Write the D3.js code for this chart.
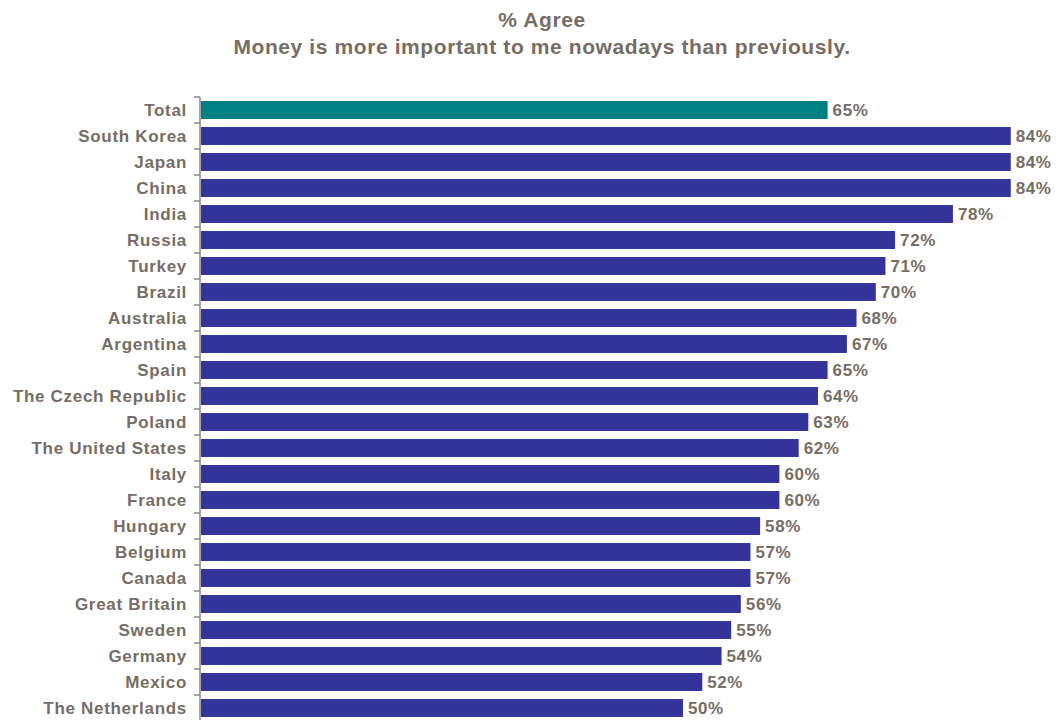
<!DOCTYPE html>
<html><head><meta charset="utf-8">
<script src="https://cdn.jsdelivr.net/npm/d3@7"></script>
<style>body{margin:0;background:#fff}svg{display:block}</style>
</head><body>
<svg id="c" width="1058" height="720"></svg>
<script>
const categories = ["Total","South Korea","Japan","China","India","Russia","Turkey","Brazil","Australia","Argentina","Spain","The Czech Republic","Poland","The United States","Italy","France","Hungary","Belgium","Canada","Great Britain","Sweden","Germany","Mexico","The Netherlands"];
const values = [65,84,84,84,78,72,71,70,68,67,65,64,63,62,60,60,58,57,57,56,55,54,52,50];
const titleLines = ["% Agree","Money is more important to me nowadays than previously."];

const svg = d3.select("#c");
const textColor = "#766d64";
const font = "'Liberation Sans', Arial, sans-serif";

const x = d3.scaleLinear().domain([0,100]).range([201,1165]);
const y = d3.scaleBand().domain(categories).range([97, 97+26*categories.length]).paddingInner(0.31).paddingOuter(0.155);

// title
svg.append("g").selectAll("text").data(titleLines).join("text")
  .attr("x",542).attr("y",(d,i)=>27+i*27)
  .attr("text-anchor","middle")
  .attr("font-family",font).attr("font-weight","bold").attr("font-size",21)
  .attr("letter-spacing","0.6px")
  .attr("fill",textColor).text(d=>d);

// bars
svg.append("g").selectAll("rect").data(categories).join("rect")
  .attr("x",x(0)).attr("y",d=>y(d))
  .attr("width",(d,i)=>x(values[i])-x(0))
  .attr("height",y.bandwidth())
  .attr("fill",(d,i)=>i===0?"#008080":"#333399");

// value labels
svg.append("g").selectAll("text").data(categories).join("text")
  .attr("x",(d,i)=>x(values[i])+5)
  .attr("y",d=>y(d)+y.bandwidth()/2)
  .attr("dy","0.36em")
  .attr("font-family",font).attr("font-weight","bold").attr("font-size",17)
  .attr("letter-spacing","0.6px")
  .attr("fill",textColor).text((d,i)=>values[i]+"%");

// axis line and ticks at band boundaries
const step = y.step();
const axis = svg.append("g").attr("stroke","#8a8580").attr("stroke-width",1.5);
axis.append("line").attr("x1",200).attr("x2",200).attr("y1",97).attr("y2",97+step*categories.length);
const bounds = d3.range(categories.length+1).map(i=>97+i*step);
axis.selectAll("line.t").data(bounds).join("line").attr("class","t")
  .attr("x1",194).attr("x2",200).attr("y1",d=>d).attr("y2",d=>d);

// category labels
svg.append("g").selectAll("text").data(categories).join("text")
  .attr("x",187).attr("y",d=>y(d)+y.bandwidth()/2)
  .attr("dy","0.36em").attr("text-anchor","end")
  .attr("font-family",font).attr("font-weight","bold").attr("font-size",17)
  .attr("letter-spacing","0.7px")
  .attr("fill",textColor).text(d=>d);
</script>
</body></html>
